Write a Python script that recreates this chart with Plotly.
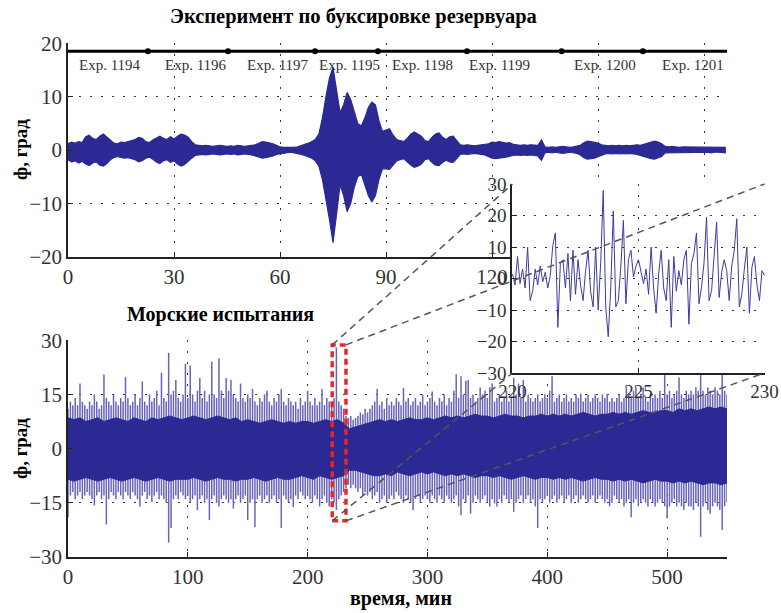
import numpy as np
import plotly.graph_objects as go

# ---------------- DATA ----------------
# Towing-tank experiment: upper / lower envelope of roll angle, one value per minute (t = 0..186)
tow_hi = [1.2, 1.5, 1.3, 1.6, 1.4,
          2.5, 2.8, 2.2, 2.0, 2.6, 3.0, 2.4, 1.8,
          1.3, 1.2, 1.5, 1.4, 1.6, 1.8, 2.0,
          2.4, 2.2, 1.6, 1.4, 1.9,
          2.3, 2.6, 2.2, 2.0, 2.5, 2.1,
          2.6, 3.0, 2.8, 2.4, 1.6,
          1.0, 0.9, 0.8, 0.9, 0.8, 0.7, 0.8, 0.9, 0.8, 0.7, 0.8, 0.7, 0.9, 0.8, 0.7, 0.8, 0.9, 1.0,
          1.3, 1.6, 1.5, 1.4, 1.2, 0.9,
          0.6, 0.5, 0.5, 0.4, 0.5, 0.6, 0.8,
          1.0, 1.3, 1.6, 2.0, 3.0,
          6.0, 10.0, 13.5, 15.5,
          11.0, 7.0, 8.5, 10.8, 9.5, 7.0, 5.0, 4.5, 6.0, 8.0, 9.0, 8.5, 5.5, 3.5, 3.8, 4.0, 2.8, 2.0,
          1.8, 1.6, 2.2, 3.0, 3.4, 3.0, 2.6, 1.8, 1.6, 2.4, 3.0, 3.2, 2.4, 2.0, 2.5, 2.6, 1.8,
          1.0, 0.9, 1.0, 0.9, 0.8, 0.9, 1.0, 1.0, 1.2,
          1.5, 1.4, 1.6, 1.5, 1.3, 1.4,
          1.1, 1.0, 0.9, 1.0, 0.9, 1.0, 1.0, 0.9,
          1.9,
          0.6, 0.5, 0.6, 0.5, 0.6, 0.7, 0.6, 0.5, 0.6, 0.7, 0.9,
          1.4, 1.7, 1.6, 1.5, 1.3, 1.0,
          0.9, 0.8, 0.9, 0.8, 0.9, 0.8, 0.9, 0.8, 0.9, 1.0, 0.9, 1.1,
          1.4, 1.6, 1.7, 1.5, 1.2,
          0.7, 0.6, 0.7, 0.6, 0.5, 0.6, 0.6, 0.5, 0.6, 0.5, 0.6, 0.5, 0.6, 0.5, 0.5, 0.6, 0.5, 0.5]
tow_lo = [-1.8, -2.2, -2.0, -2.4, -2.1,
          -2.6, -2.9, -2.4, -2.2, -2.8, -3.0, -2.5, -1.8,
          -1.4, -1.2, -1.3, -1.5, -1.4, -1.6, -1.8,
          -2.2, -2.0, -1.5, -1.3, -1.7,
          -2.2, -2.5, -2.0, -1.8, -2.3, -2.0,
          -2.6, -3.0, -2.7, -2.2, -1.5,
          -1.0, -0.9, -0.8, -0.9, -0.8, -0.7, -0.8, -0.9, -0.8, -0.7, -0.8, -0.7, -0.9, -0.8, -0.7, -0.8, -0.9, -1.0,
          -1.3, -1.5, -1.4, -1.3, -1.1, -0.8,
          -0.6, -0.5, -0.5, -0.4, -0.5, -0.6, -0.8,
          -1.0, -1.2, -1.5, -2.0, -3.0,
          -5.5, -9.0, -13.0, -17.3,
          -12.0, -6.5, -8.5, -11.5, -10.0, -7.0, -5.0, -4.5, -6.5, -8.5, -9.7, -8.5, -5.5, -3.5, -3.5, -3.6, -2.8, -2.0,
          -1.8, -1.6, -2.2, -2.8, -3.2, -3.0, -2.6, -1.8, -1.6, -2.3, -2.8, -2.9, -2.3, -1.9, -2.2, -2.3, -1.6,
          -0.8, -0.7, -0.8, -0.7, -0.6, -0.7, -0.8, -0.9, -1.2,
          -1.5, -1.6, -1.5, -1.4, -1.3, -1.2,
          -1.0, -0.9, -1.0, -0.9, -1.0, -0.9, -1.0, -1.1,
          -1.9,
          -0.5, -0.4, -0.5, -0.4, -0.5, -0.6, -0.5, -0.4, -0.5, -0.6, -0.9,
          -1.4, -1.7, -1.6, -1.5, -1.3, -1.0,
          -0.7, -0.6, -0.7, -0.6, -0.7, -0.6, -0.7, -0.6, -0.7, -0.8, -0.9, -1.1,
          -1.4, -1.6, -1.7, -1.5, -1.2,
          -0.5, -0.4, -0.5, -0.4, -0.4, -0.5, -0.4, -0.4, -0.5, -0.4, -0.5, -0.4, -0.4, -0.5, -0.4, -0.4, -0.4, -0.5]

exp_names = ["Exp. 1194", "Exp. 1196", "Exp. 1197", "Exp. 1195",
             "Exp. 1198", "Exp. 1199", "Exp. 1200", "Exp. 1201"]
exp_label_x = [2.5, 27, 50, 70.5, 91, 113, 142.5, 167.5]
exp_bounds = [22.6, 45.3, 69.9, 87.7, 112.9, 139.7, 162.7]
exp_bar_span = [0, 186.5]
exp_bar_y = 18.5
exp_label_y = 16

# Sea trials: extreme peaks per 2-minute bin (t = 0, 2, ..., 550)
sea_peak_hi = [11, 13, 12, 14, 12,  18, 13, 12, 11, 13,  12, 15, 13, 11, 12,  20.5, 14, 13, 12, 15,
               13, 12, 14, 13, 19.8,  14, 12, 13, 15, 12,  14, 18.6, 13, 12, 15,  13, 14, 16, 12, 21,
               14, 13, 26.5, 15, 16,  19, 14, 13, 15, 23.5,  14, 23, 15, 13, 16,  19.5, 14, 16, 13, 15,
               24, 15, 14, 25, 16,  14, 19.5, 16, 19, 15,  14, 13, 18, 14, 13,  15, 14, 16.5, 13, 12,
               14, 13, 15, 16, 13,  12, 14, 13, 15, 16.5,  13, 12, 14, 13, 12,  13, 11, 14, 12, 13,
               16, 13, 12, 14, 12,  13, 16.5, 12, 14, 13,  12, 14, 28, 13, 12,  11, 9, 8.5, 9, 8,
               8.5, 9, 10, 9.5, 11,  10, 11, 12, 13, 16.5,  12, 13, 11, 14, 12,  13, 12, 14, 13, 12,
               16.8, 13, 14, 12, 13,  14, 12, 13, 15, 12,  13, 14, 15.8, 13, 12,  14, 13, 15, 12, 14,
               13, 16, 20.6, 14, 20,  15, 18.8, 19, 14, 15,  13, 14, 16.9, 15, 16,  14, 17, 18, 13, 14,
               15, 13, 14, 16, 13,  14, 19.6, 15, 18, 14,  19, 13, 15, 14, 13,  14, 15, 13, 14, 15,
               14, 16, 20, 13, 14,  15, 13, 14, 15, 13,  14, 13, 15, 14, 15.2,  13, 14, 15, 13, 14,
               15, 14, 13, 15, 14,  15.2, 13, 14, 13, 14,  15, 13, 14, 16.9, 15,  14, 16, 17, 14, 15,
               16.9, 14, 13, 15, 14,  15, 14, 16, 14, 20.8,  15, 16, 14, 15, 16,  19.7, 15, 14, 16, 15,
               16, 15, 17, 16, 21.5,  16, 15, 17, 16, 15,  17, 16, 15, 20.8, 16,  15]
sea_peak_lo = [-19, -13, -12, -14, -13,  -12, -14, -13, -12, -13,  -14, -15.7, -13, -12, -14,  -13, -21, -14, -12, -13,
               -14, -12, -13, -14, -12,  -13, -14, -12, -13, -14,  -16, -13, -12, -14, -13,  -14.8, -13, -12, -14, -13,
               -14, -15, -26, -22, -14,  -13, -14, -12, -13, -14,  -13, -15, -14, -13, -17,  -14, -13, -15, -14, -19.8,
               -14, -13, -15, -16, -14,  -13, -14, -15, -14, -16.6,  -14, -13, -15, -14, -13,  -19.8, -15, -14, -21.8, -14,
               -13, -15, -14, -13, -15,  -14, -13, -15, -14, -22,  -13, -14, -15, -14, -16.2,  -13, -14, -12, -13, -14,
               -13, -14, -15, -13, -14,  -16, -14, -13, -15, -16,  -14, -15, -17, -14, -13,  -12, -11, -10, -11, -10,
               -11, -12, -11, -13, -12,  -13, -12, -14, -13, -12,  -15, -14, -13, -15, -14,  -13, -14, -12, -13, -14,
               -15, -13, -14, -15, -17,  -14, -13, -15, -14, -13,  -14, -15, -13, -14, -15,  -13, -14, -15, -13, -14,
               -15, -14, -13, -16, -18.4,  -14, -15, -13, -18, -15,  -13, -14, -15, -14, -13,  -15, -16, -14, -15.2, -16,
               -14, -15, -13, -14, -15,  -14, -17.5, -15, -14, -13,  -15, -14, -13, -15, -14,  -16, -22, -14, -15, -14,
               -13, -15, -14, -13, -15,  -14, -13, -15, -14, -13,  -15, -14, -13, -15, -14,  -13, -14, -15, -14, -13,
               -15, -14, -13, -14, -15,  -14, -16, -15, -13, -14,  -15, -14, -16, -15, -14,  -19, -15, -14, -16, -15,
               -14, -15, -16, -14, -15,  -16, -15, -14, -15, -16,  -19.3, -16, -15, -14, -16,  -15, -16, -17, -15, -16,
               -16, -17, -15, -16, -24.4,  -16, -15, -17, -18, -16,  -15, -16, -17, -22.5, -16,  -15]

# Sea trials: dense core of the signal, per 5 minutes (t = 0, 5, ..., 550)
sea_core_hi = [8.5, 8, 8.5, 7.5, 8, 8.5, 7.5, 8, 8.5, 8,
               7.5, 8.5, 8, 7.5, 8.5, 8, 8.5, 9, 8.5, 8,
               8.5, 9, 8.5, 8, 8.5, 9, 8.5, 8, 8.5, 7.5,
               8, 7.5, 7, 7.5, 8, 7.5, 7, 7.5, 7, 7.5,
               7.5, 7, 7.5, 8, 7.5, 8, 7, 5.5, 6, 6.5,
               7, 7.5, 8, 7.5, 8, 7.5, 8, 8.5, 8, 8,
               8.5, 8, 8.5, 9, 8.5, 9, 8.5, 9, 9.5, 9,
               9, 8.5, 9, 9.5, 9, 9, 8.5, 9, 9, 9.5,
               9, 9.5, 9, 9.5, 9, 9.5, 10, 9.5, 9, 9.5,
               9.5, 10, 9.5, 10, 9.5, 10, 10.5, 10, 10, 10.5,
               10.5, 10, 11, 10.5, 11, 10.5, 11, 11.5, 11, 11.5,
               11]
sea_core_lo = [-8.5, -9, -8.5, -8, -8.5, -9, -8.5, -8, -8.5, -9,
               -8.5, -8, -8.5, -9, -8.5, -8, -8.5, -9, -8.5, -8.5,
               -8.5, -8, -8.5, -9, -8.5, -8, -8.5, -8.5, -9, -8.5,
               -8.5, -8, -8.5, -9, -8.5, -8, -8.5, -8.5, -8, -7.5,
               -8, -8.5, -7.5, -8, -8.5, -8, -7.5, -6, -6, -6.5,
               -7, -7.5, -7.5, -7, -7.5, -6.5, -7, -7.5, -7, -6.5,
               -7, -6.5, -7, -7.5, -7, -7.5, -7, -7.5, -8, -7.5,
               -7.5, -8, -7.5, -8, -8.5, -8, -7.5, -8, -8.5, -8,
               -8, -8.5, -8, -8.5, -8, -8.5, -9, -8.5, -8, -8.5,
               -8.5, -9, -8.5, -9, -8.5, -9, -9.5, -9, -8.5, -9,
               -9, -9.5, -9, -9.5, -9, -9.5, -10, -9.5, -9.5, -10,
               -9.5]

# Zoomed window 220..230 min, one value per 0.1 min
zoom_vals = [1.5, -2, 7, -1.6, 3, -3, 10, -7, -4, 3,
             -2, 4, -1, 2, -3, 1, 10.5, 14.5, -15.5, 5,
             6, -3, 8, -7, 9, -5, 6, -2, -7, 2.5,
             9, -4, -9, 10, -10, 5, 28, -9, -18.5, -2.7,
             21.5, -9, -7, 4, 18.5, -8, 6, 9, 0.5, 4,
             6, 2.5, -1.6, 3, -5, 10, -3, -11, 1.5, 9,
             -3, -7, 6, -15.5, 7, -4, 2.5, -2, 6, 9,
             -14.5, 4.7, 8, 14.5, -8, -2.7, 5, 19.5, -7, -3.8,
             6, 18, -6, 2, 6, 2.5, -7, 4, 9, 19,
             -9, -5, 3, 10, -11, 3.6, 7, -2, -7, 2.5,
             1]
zoom_window = [220, 230]
zoom_box_x = [220.5, 232]
zoom_box_y = [-20, 28.7]

top_xticks = [0, 30, 60, 90, 120, 150, 180]
top_yticks = [-20, -10, 0, 10, 20]
bot_xticks = [0, 100, 200, 300, 400, 500]
bot_yticks = [-30, -15, 0, 15, 30]
ins_xticks = [220, 225, 230]
ins_yticks = [-30, -20, -10, 0, 10, 20, 30]


def lab(v):
    return ("\u2212" + str(abs(v))) if v < 0 else str(v)


# ---------------- LAYOUT CONSTANTS ----------------
W, H = 781, 613
XDOM = [68 / W, 727 / W]
TOP_YDOM = [(H - 257) / H, (H - 43) / H]
BOT_YDOM = [(H - 557) / H, (H - 340) / H]
INS_XDOM = [512 / W, 765 / W]
INS_YDOM = [(H - 373) / H, (H - 184) / H]
TOP_XR = [0, 186.5]
TOP_YR = [-20, 20.05]
BOT_XR = [0, 550]
BOT_YR = [-30, 30.05]
INS_XR = [219.98, 230.02]
INS_YR = [-30, 30.05]

DARK = "#2c2995"
SPIKE = "#6864b8"
SERIF = "Liberation Serif"

fig = go.Figure()

# top: towing tank signal envelope
tt_hi = np.arange(len(tow_hi))
tt_lo = np.arange(len(tow_lo))
fig.add_trace(go.Scatter(
    x=np.concatenate([tt_hi, tt_lo[::-1]]),
    y=np.concatenate([np.array(tow_hi), np.array(tow_lo)[::-1]]),
    fill="toself", fillcolor=DARK, mode="lines",
    line=dict(color=DARK, width=1.2), xaxis="x", yaxis="y", hoverinfo="skip"))

# experiment bar
fig.add_trace(go.Scatter(x=exp_bar_span, y=[exp_bar_y] * 2, mode="lines",
                         line=dict(color="black", width=3), xaxis="x", yaxis="y"))
fig.add_trace(go.Scatter(x=exp_bounds, y=[exp_bar_y] * len(exp_bounds), mode="markers",
                         marker=dict(color="black", size=6), xaxis="x", yaxis="y"))

# bottom: sea trials (spikes + dense core)
ts_hi = np.arange(len(sea_peak_hi)) * 2.0
ts_lo = np.arange(len(sea_peak_lo)) * 2.0
n = min(len(ts_hi), len(ts_lo))
sx = np.column_stack([ts_hi[:n], ts_hi[:n], np.full(n, np.nan)]).ravel()
sy = np.column_stack([np.array(sea_peak_hi[:n]), np.array(sea_peak_lo[:n]), np.full(n, np.nan)]).ravel()
fig.add_trace(go.Scatter(x=sx, y=sy, mode="lines", connectgaps=False,
                         line=dict(color=SPIKE, width=1.5),
                         xaxis="x2", yaxis="y2", hoverinfo="skip"))
tc_hi = np.arange(len(sea_core_hi)) * 5.0
tc_lo = np.arange(len(sea_core_lo)) * 5.0
fig.add_trace(go.Scatter(
    x=np.concatenate([tc_hi, tc_lo[::-1]]),
    y=np.concatenate([np.array(sea_core_hi), np.array(sea_core_lo)[::-1]]),
    fill="toself", fillcolor=DARK, mode="lines",
    line=dict(color=DARK, width=1), xaxis="x2", yaxis="y2", hoverinfo="skip"))

# inset
tz = zoom_window[0] + np.arange(len(zoom_vals)) * 0.1
fig.add_trace(go.Scatter(x=tz, y=zoom_vals, mode="lines",
                         line=dict(color="#3e3ba0", width=1), xaxis="x3", yaxis="y3"))


def axis(domain, rng, tickvals, anchor, size=21):
    return dict(domain=domain, range=rng, anchor=anchor, tickvals=tickvals,
                ticktext=[lab(v) for v in tickvals],
                showline=True, linecolor="#222", linewidth=1.5, mirror=False,
                ticks="inside", ticklen=5, tickcolor="#222",
                showgrid=True, gridcolor="#333", gridwidth=1.3, griddash="2px,9px",
                zeroline=False, tickfont=dict(family=SERIF, size=size, color="#333"),
                fixedrange=True)


fig.update_layout(
    width=W, height=H, template="none",
    margin=dict(l=0, r=0, t=0, b=0, autoexpand=False),
    paper_bgcolor="white", plot_bgcolor="white", showlegend=False,
    xaxis=axis(XDOM, TOP_XR, top_xticks, "y"),
    yaxis=axis(TOP_YDOM, TOP_YR, top_yticks, "x"),
    xaxis2=axis(XDOM, BOT_XR, bot_xticks, "y2"),
    yaxis2=axis(BOT_YDOM, BOT_YR, bot_yticks, "x2"),
    xaxis3=axis(INS_XDOM, INS_XR, ins_xticks, "y3", size=19),
    yaxis3=axis(INS_YDOM, INS_YR, ins_yticks, "x3", size=19),
)

# experiment labels
for name, xv in zip(exp_names, exp_label_x):
    fig.add_annotation(x=xv, y=exp_label_y, xref="x", yref="y", text=name, showarrow=False,
                       xanchor="left", yanchor="middle",
                       font=dict(family=SERIF, size=15, color="#333"))


# titles
def ptext(text, x, y, size, angle=0):
    fig.add_annotation(x=x / W, y=(H - y) / H, xref="paper", yref="paper", text="<b>%s</b>" % text,
                       showarrow=False, textangle=angle, xanchor="center", yanchor="middle",
                       font=dict(family=SERIF, size=size, color="black"))


ptext("Эксперимент по буксировке резервуара", 353, 16, 20.5)
ptext("Морские испытания", 220, 314, 20)
ptext("ф, град", 20, 150, 19, -90)
ptext("ф, град", 20, 449, 19, -90)
ptext("время, мин", 401, 598, 20)

# red zoom box (data coords of bottom axes)
fig.add_shape(type="rect", xref="x2", yref="y2", x0=zoom_box_x[0], x1=zoom_box_x[1],
              y0=zoom_box_y[0], y1=zoom_box_y[1], layer="above",
              line=dict(color="#e8262a", width=3.5, dash="6px,4px"))


# connectors: box corners -> inset corners, in paper coordinates derived from axes
def to_paper(v, rng, dom):
    return dom[0] + (v - rng[0]) / (rng[1] - rng[0]) * (dom[1] - dom[0])


pairs = [((zoom_box_x[0], zoom_box_y[1]), (zoom_window[0], INS_YR[1])),
         ((zoom_box_x[1], zoom_box_y[1]), (zoom_window[1], INS_YR[1])),
         ((zoom_box_x[0], zoom_box_y[0]), (zoom_window[0], INS_YR[0])),
         ((zoom_box_x[1], zoom_box_y[0]), (zoom_window[1], INS_YR[0]))]
for (bx, by), (ix, iy) in pairs:
    fig.add_shape(type="line", xref="paper", yref="paper", layer="above",
                  x0=to_paper(bx, BOT_XR, XDOM), y0=to_paper(by, BOT_YR, BOT_YDOM),
                  x1=to_paper(ix, INS_XR, INS_XDOM), y1=to_paper(iy, INS_YR, INS_YDOM),
                  line=dict(color="#555", width=1.5, dash="7px,5px"))

fig.write_html("out.html")
